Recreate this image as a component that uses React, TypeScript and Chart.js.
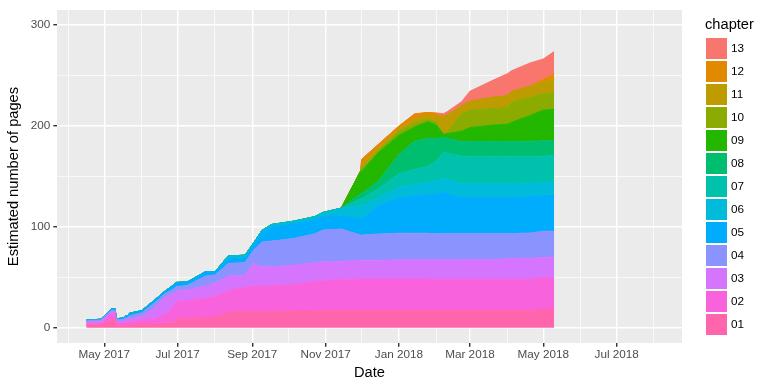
import React, { useEffect, useRef } from 'react';
import { Chart, registerables } from 'chart.js';

Chart.register(...registerables);

// ---------- data ----------
const dates = [
  '2017-04-16', '2017-04-21', '2017-04-28', '2017-05-07', '2017-05-10', '2017-05-11', '2017-05-17', '2017-05-19',
  '2017-05-20', '2017-05-22', '2017-06-01', '2017-06-12', '2017-06-20', '2017-06-27', '2017-06-30', '2017-07-09',
  '2017-07-24', '2017-08-01', '2017-08-12', '2017-08-26', '2017-09-02', '2017-09-09', '2017-09-17', '2017-10-05',
  '2017-10-23', '2017-10-30', '2017-11-14', '2017-11-30', '2017-12-01', '2017-12-15', '2018-01-01', '2018-01-14',
  '2018-01-25', '2018-02-01', '2018-02-07', '2018-02-10', '2018-02-22', '2018-03-01', '2018-03-20', '2018-04-01',
  '2018-04-05', '2018-04-20', '2018-05-01', '2018-05-10',
];

const chapters = ['01', '02', '03', '04', '05', '06', '07', '08', '09', '10', '11', '12', '13'];

const ch01 = [3, 3, 3, 8, 8, 2.5, 2.5, 2.5, 2.5, 3, 3.5, 4, 5, 5, 9, 9.5, 9.8, 10.8, 15.7, 16.3, 16.3, 16.3, 16.3, 17, 17.3, 17.3, 17.3, 17.3, 17.3, 17.3, 17.3, 17.3, 17.3, 17.3, 17.3, 17.3, 17.3, 17.3, 17.3, 17.3, 17.3, 17.3, 18.6, 18.6];
const ch02 = [1, 1, 1.3, 6, 6, 1.7, 2.5, 3, 3, 3, 4.5, 5, 8, 15, 17, 17.5, 19.6, 20.2, 21.2, 23.9, 24.7, 25.2, 25.5, 26, 28.4, 29.7, 30.7, 31.1, 31.1, 31.1, 31.1, 31.1, 31.1, 30.8, 30.8, 30.8, 30.8, 30.8, 30.8, 30.8, 30.8, 30.8, 31.4, 31.4];
const ch03 = [1.5, 2, 1.7, 2, 2, 2.3, 2, 2.5, 2, 3, 3.4, 11, 17, 14, 11, 10.5, 12.1, 13.2, 14.4, 12.1, 22.8, 19, 18.7, 19, 19.1, 18.5, 18, 18.6, 18.6, 18.6, 19.1, 19.3, 19.3, 19.6, 19.6, 19.6, 19.6, 19.6, 19.6, 20.6, 20.6, 20.9, 20, 20];
const ch04 = [1.5, 1.5, 1.7, 1.5, 1.5, 1.5, 1.5, 2.5, 2, 3, 3.3, 5, 3.5, 4, 4, 4.5, 9.8, 8.1, 12.5, 12.5, 13.2, 24.5, 25.5, 26.5, 28.4, 31.5, 32, 25, 25, 26, 26.3, 26.1, 26.1, 25.5, 25.8, 25.8, 25.8, 25.8, 25.8, 24.8, 24.8, 25, 25.8, 25.8];
const ch05 = [0.5, 0.6, 0.8, 1.5, 1.5, 1, 1.3, 2.2, 1.5, 2.5, 2.3, 2.8, 2.5, 4, 4, 3.5, 4.2, 3.2, 4.9, 3.9, 5, 9.9, 13.7, 14.5, 13.8, 13, 13, 16, 16, 28, 34.8, 37, 38, 39.3, 40.6, 39.5, 35.6, 35.6, 35.6, 35.6, 35.6, 36, 35, 35];
const ch06 = [0, 0, 0, 0, 0, 0, 0, 0, 0, 0, 0, 0, 0, 0, 0, 0, 0, 0, 2.6, 3.3, 2, 1.6, 2.7, 2.6, 3.2, 4.4, 7.7, 13, 13, 8, 10.4, 11.5, 12.1, 13, 14.1, 14, 13.8, 13.9, 13.9, 13.9, 13.9, 13.5, 13.1, 14];
const ch07 = [0, 0, 0, 0, 0, 0, 0, 0, 0, 0, 0, 0, 0, 0, 0, 0, 0, 0, 0, 0, 0, 0, 0, 0, 0, 0, 0, 7, 7, 9, 14, 14.7, 16.4, 19.5, 25.8, 26, 27.1, 27, 27, 27, 27, 26.5, 26.1, 26.2];
const ch08 = [0, 0, 0, 0, 0, 0, 0, 0, 0, 0, 0, 0, 0, 0, 0, 0, 0, 0, 0, 0, 0, 0, 0, 0, 0, 0, 0, 5, 5, 7.5, 19, 28, 27.7, 22.4, 14.7, 15, 14.8, 14.8, 14.8, 14.8, 14.8, 15, 15.5, 14.5];
const ch09 = [0, 0, 0, 0, 0, 0, 0, 0, 0, 0, 0, 0, 0, 0, 0, 0, 0, 0, 0, 0, 0, 0, 0, 0, 0, 0, 0, 22.3, 22.3, 28.5, 19, 14, 16.4, 13.8, 3.3, 4.5, 10.2, 13.7, 16.2, 17, 19.2, 25.5, 30.4, 31];
const ch10 = [0, 0, 0, 0, 0, 0, 0, 0, 0, 0, 0, 0, 0, 0, 0, 0, 0, 0, 0, 0, 0, 0, 0, 0, 0, 0, 0, 0, 2.7, 2, 4, 4, 2.6, 2.8, 0, 1.5, 17, 17.4, 16.5, 16.4, 20, 18, 16.3, 16.7];
const ch11 = [0, 0, 0, 0, 0, 0, 0, 0, 0, 0, 0, 0, 0, 0, 0, 0, 0, 0, 0, 0, 0, 0, 0, 0, 0, 0, 0, 0, 4, 2.5, 2, 4.5, 3.5, 5.3, 17, 17, 8, 8.8, 11, 11.8, 10.5, 11, 11.5, 13.1];
const ch12 = [0, 0, 0, 0, 0, 0, 0, 0, 0, 0, 0, 0, 0, 0, 0, 0, 0, 0, 0, 0, 0, 0, 0, 0, 0, 0, 0, 0, 5, 3.5, 3, 4.5, 3, 3.3, 0.5, 0, 0, 0, 0, 0, 0, 0, 2.6, 5.5];
const ch13 = [0, 0, 0, 0, 0, 0, 0, 0, 0, 0, 0, 0, 0, 0, 0, 0, 0, 0, 0, 0, 0, 0, 0, 0, 0, 0, 0, 0, 0, 0, 0, 0, 0, 0.4, 2.8, 3.2, 4, 9.8, 16.8, 21.8, 20.5, 23, 20.2, 22];

const seriesValues = [ch01, ch02, ch03, ch04, ch05, ch06, ch07, ch08, ch09, ch10, ch11, ch12, ch13];

const colors = ['#FF65AC', '#F962DD', '#D575FE', '#8B93FF', '#00ACFC', '#00BBDA', '#00C1AB', '#00BE70', '#24B700', '#8CAB00', '#BE9C00', '#E18A00', '#F8766D'];

const xTickDates = [
  '2017-04-01', '2017-05-01', '2017-06-01', '2017-07-01', '2017-08-01', '2017-09-01', '2017-10-01', '2017-11-01', '2017-12-01',
  '2018-01-01', '2018-02-01', '2018-03-01', '2018-04-01', '2018-05-01', '2018-06-01', '2018-07-01', '2018-08-01',
];
const xTickLabels = ['', 'May 2017', '', 'Jul 2017', '', 'Sep 2017', '', 'Nov 2017', '', 'Jan 2018', '', 'Mar 2018', '', 'May 2018', '', 'Jul 2018', ''];
const yTickValues = [0, 50, 100, 150, 200, 250, 300];
const yTickLabels = ['0', '', '100', '', '200', '', '300'];

const xLimits = ['2017-03-23', '2018-08-24'];
const yLimits = [-15, 315];

// ---------- helpers ----------
const toDay = (s: string) => Date.UTC(+s.slice(0, 4), +s.slice(5, 7) - 1, +s.slice(8, 10)) / 86400000;

const FONT = '"Liberation Sans", Arial, Helvetica, sans-serif';

const panelBg = {
  id: 'panelBg',
  beforeDraw(chart: any) {
    const { ctx, chartArea } = chart;
    ctx.save();
    ctx.fillStyle = '#EBEBEB';
    ctx.fillRect(chartArea.left, chartArea.top, chartArea.right - chartArea.left, chartArea.bottom - chartArea.top);
    ctx.restore();
  },
};

const ggLegend = {
  id: 'ggLegend',
  afterDraw(chart: any) {
    const ctx = chart.ctx;
    ctx.save();
    ctx.fillStyle = '#000000';
    ctx.textAlign = 'left';
    ctx.textBaseline = 'alphabetic';
    ctx.font = `14.67px ${FONT}`;
    ctx.fillText('chapter', 705, 28.5);
    const items = chart.data.datasets.slice().reverse();
    items.forEach((d: any, i: number) => {
      const top = 38 + i * 23;
      ctx.fillStyle = d.backgroundColor;
      ctx.fillRect(706, top, 21, 21);
      ctx.fillStyle = '#000000';
      ctx.font = `11.73px ${FONT}`;
      ctx.textBaseline = 'middle';
      ctx.fillText(d.label, 731, top + 11);
    });
    ctx.restore();
  },
};

export default function App() {
  const ref = useRef<HTMLCanvasElement | null>(null);

  useEffect(() => {
    if (!ref.current) return;
    Chart.defaults.font.family = FONT;
    const datasets = chapters.map((name, k) => ({
      label: name,
      data: dates.map((d, i) => ({ x: toDay(d), y: seriesValues[k][i] })),
      backgroundColor: colors[k],
      borderColor: colors[k],
      borderWidth: 1,
      fill: k === 0 ? 'origin' : '-1',
      pointRadius: 0,
      pointHoverRadius: 0,
      tension: 0,
    }));

    const chart = new Chart(ref.current, {
      type: 'line',
      data: { datasets },
      plugins: [panelBg, ggLegend],
      options: {
        animation: false,
        responsive: false,
        events: [],
        layout: { padding: { left: 0, right: 86, top: 7, bottom: 0 } },
        plugins: {
          legend: { display: false },
          tooltip: { enabled: false },
        },
        scales: {
          x: {
            type: 'linear',
            min: toDay(xLimits[0]) - 0.3,
            max: toDay(xLimits[1]) + 0.3,
            afterBuildTicks: (scale: any) => {
              scale.ticks = xTickDates.map((d) => ({ value: toDay(d) }));
            },
            afterFit: (scale: any) => {
              scale.height = 41;
            },
            border: { display: false },
            grid: {
              color: '#FFFFFF',
              lineWidth: (c: any) => (xTickLabels[c.index] ? 1.42 : 0.71),
              drawTicks: true,
              tickLength: 3.67,
              tickWidth: 1.42,
              tickColor: (c: any) => (xTickLabels[c.index] ? '#333333' : 'rgba(0,0,0,0)'),
            },
            ticks: {
              autoSkip: false,
              maxRotation: 0,
              minRotation: 0,
              padding: 1.5,
              color: '#4D4D4D',
              font: { size: 11.73, family: FONT },
              callback: (_v: any, i: number) => xTickLabels[i],
            },
            title: {
              display: true,
              text: 'Date',
              color: '#000000',
              font: { size: 14.67, family: FONT },
              padding: { top: 0, bottom: 2 },
            },
          },
          y: {
            type: 'linear',
            stacked: true,
            min: yLimits[0],
            max: yLimits[1],
            afterBuildTicks: (scale: any) => {
              scale.ticks = yTickValues.map((v) => ({ value: v }));
            },
            afterFit: (scale: any) => {
              scale.width = 57;
            },
            border: { display: false },
            grid: {
              color: '#FFFFFF',
              lineWidth: (c: any) => (yTickLabels[c.index] ? 1.42 : 0.71),
              drawTicks: true,
              tickLength: 3.67,
              tickWidth: 1.42,
              tickColor: (c: any) => (yTickLabels[c.index] ? '#333333' : 'rgba(0,0,0,0)'),
            },
            ticks: {
              autoSkip: false,
              padding: 3,
              color: '#4D4D4D',
              font: { size: 11.73, family: FONT },
              callback: (_v: any, i: number) => yTickLabels[i],
            },
            title: {
              display: true,
              text: 'Estimated number of pages',
              color: '#000000',
              font: { size: 14.67, family: FONT },
              padding: { top: 5.6, bottom: 0 },
            },
          },
        },
      } as any,
    });
    return () => chart.destroy();
  }, []);

  return (
    <div style={{ position: 'fixed', left: 0, top: 0, width: 768, height: 384, background: '#FFFFFF' }}>
      <canvas ref={ref} width={768} height={384} style={{ width: 768, height: 384, display: 'block' }} />
    </div>
  );
}
